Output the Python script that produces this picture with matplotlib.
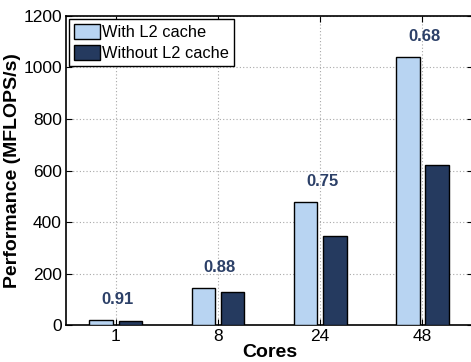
"""Render out.png: performance with / without L2 cache per core count."""

import matplotlib
import numpy as np

matplotlib.use("Agg")
import matplotlib.pyplot as plt

cores = ["1", "8", "24", "48"]
with_l2 = [19, 142, 478, 1040]
without_l2 = [17, 127, 347, 621]
ratios = ["0.91", "0.88", "0.75", "0.68"]

LIGHT = "#b8d4f2"
DARK = "#253a5f"
TEXT_BLUE = "#2c4068"

plt.rcParams["font.family"] = ["Liberation Sans", "DejaVu Sans"]

fig = plt.figure(figsize=(4.71, 3.62), dpi=100)
ax = fig.add_axes([0.140, 0.102, 0.865, 0.854])

x = np.arange(len(cores))
w = 0.23
ax.bar(x - 0.14, with_l2, w, color=LIGHT, edgecolor="black", linewidth=1.0,
       label="With L2 cache", zorder=3)
ax.bar(x + 0.145, without_l2, w, color=DARK, edgecolor="black", linewidth=1.0,
       label="Without L2 cache", zorder=3)

for xi, hi, r in zip(x, with_l2, ratios):
    ax.annotate(r, (xi + 0.02, hi), xytext=(0, 15), textcoords="offset points",
                ha="center", va="center", fontsize=12, fontweight="bold",
                color=TEXT_BLUE)

ax.set_xlim(-0.485, 3.5)
ax.set_ylim(0, 1200)
ax.set_xticks(x)
ax.set_xticklabels(cores)
ax.set_yticks(np.arange(0, 1201, 200))
ax.tick_params(direction="in", top=True, right=True, labelsize=12.5,
               length=4, pad=3)
ax.grid(True, linestyle=(0, (1, 2)), color="#a8a8a8", linewidth=0.8, zorder=0)
for s in ax.spines.values():
    s.set_linewidth(1.2)

ax.set_xlabel("Cores", fontsize=14, fontweight="bold", labelpad=0)
ax.set_ylabel("Performance (MFLOPS/s)", fontsize=14, fontweight="bold")
ax.yaxis.set_label_coords(-0.11, 0.5)

leg = ax.legend(loc="upper left", fontsize=11.8, frameon=True, fancybox=False,
                borderpad=0.3, labelspacing=0.3, handlelength=1.6,
                handleheight=1.0, handletextpad=0.12, borderaxespad=0.2)
leg.get_frame().set_edgecolor("black")
leg.get_frame().set_linewidth(1.0)
leg.get_frame().set_alpha(1.0)

fig.savefig("out.png")
plt.close(fig)
